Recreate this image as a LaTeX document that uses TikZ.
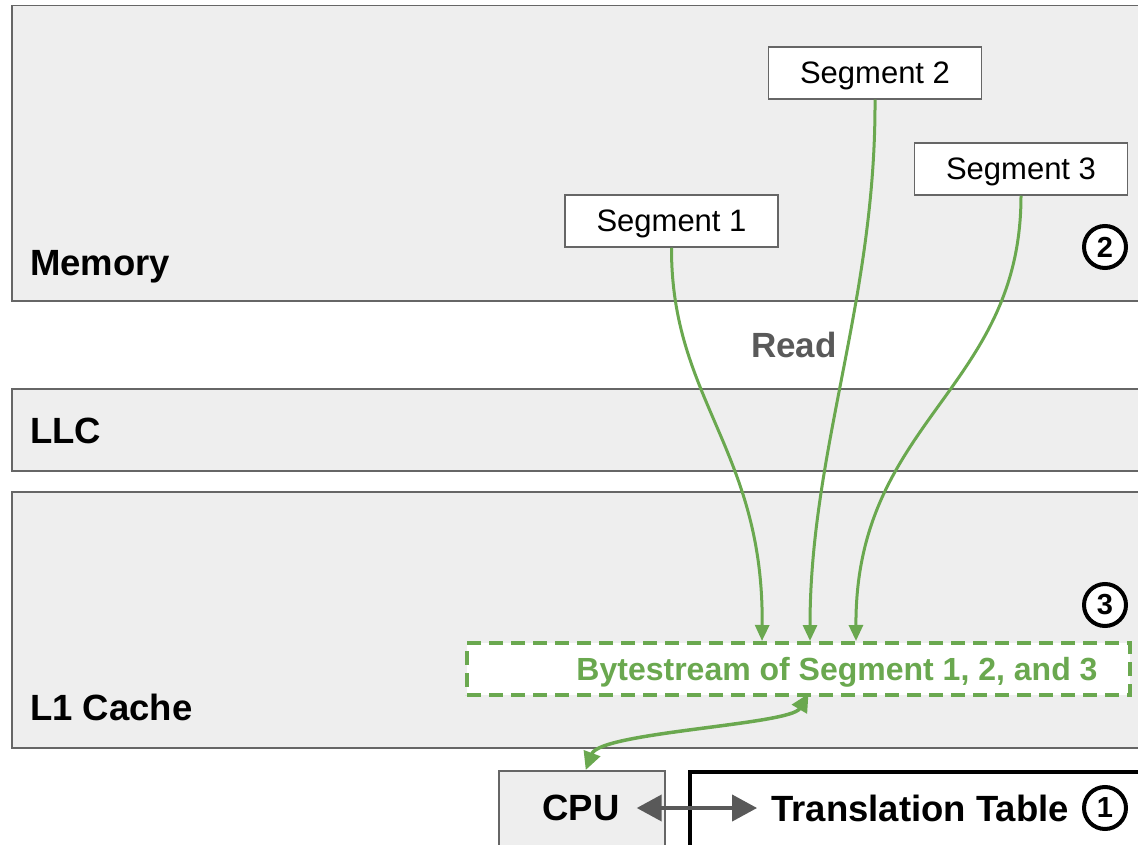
\documentclass[tikz,border=0pt]{standalone}
\usepackage{fontspec}
\setmainfont{Liberation Sans}
\usetikzlibrary{arrows.meta}
\definecolor{panel}{HTML}{EEEEEE}
\definecolor{edge}{HTML}{666666}
\definecolor{leaf}{HTML}{6AA84F}
\definecolor{ink}{HTML}{595959}
\begin{document}
\begin{tikzpicture}[x=1pt,y=-1pt,
  layer/.style={draw=edge,fill=panel,line width=1.5pt,inner sep=0pt,anchor=north west},
  lbl/.style={inner sep=0pt,font=\fontsize{36.5}{40}\selectfont\bfseries},
  seg/.style={draw=edge,fill=white,line width=1.5pt,minimum width=213pt,minimum height=52pt,inner sep=0pt,text depth=0pt,font=\fontsize{31}{34}\selectfont},
  num/.style={circle,draw=black,fill=white,line width=4pt,minimum size=42pt,inner sep=0pt,font=\fontsize{29}{30}\selectfont\bfseries},
  flow/.style={draw=leaf,line width=3pt,-{Triangle[length=16pt,width=14pt]}},
  link/.style={draw=leaf,line width=3.5pt,{Triangle[length=18pt,width=17pt]}-{Triangle[length=18pt,width=17pt]}},
  swap/.style={draw=ink,line width=4pt,{Triangle[length=25pt,width=26pt]}-{Triangle[length=25pt,width=26pt]}}]
\useasboundingbox (0,0) rectangle (1138,845);
\clip (0,0) rectangle (1138,845);
\fill[white] (0,0) rectangle (1138,845);

% memory hierarchy layers
\node[layer,minimum width=1140pt,minimum height=295pt] (mem) at (11,5) {};
\node[layer,minimum width=1140pt,minimum height=82pt] (llc) at (11,388) {};
\node[layer,minimum width=1140pt,minimum height=256pt] (l1) at (11,491) {};
\node[lbl,anchor=base west] (memlbl) at (30,275) {Memory};
\node[lbl,anchor=base west] (llclbl) at (30,443) {LLC};
\node[lbl,anchor=base west] (l1lbl) at (30,720) {L1 Cache};

% segments in memory
\node[seg] (s1) at (671.5,221) {Segment 1};
\node[seg] (s2) at (875,73) {Segment 2};
\node[seg] (s3) at (1021,169) {Segment 3};
\node[lbl,text=ink,font=\fontsize{35}{40}\selectfont\bfseries,text depth=0pt] (rd) at (794,345) {Read};

% bytestream buffer in L1
\node[draw=leaf,fill=white,line width=3.5pt,dash pattern=on 14pt off 8pt,
      minimum width=663pt,minimum height=52pt,inner sep=0pt] (bs) at (798.5,669) {};
\node[lbl,text=leaf,text depth=0pt,font=\fontsize{32}{36}\selectfont\bfseries] (bstxt) at (837,669) {Bytestream of Segment 1, 2, and 3};

% CPU and translation table
\node[layer,minimum width=166pt,minimum height=100pt] (cpu) at (498,770) {};
\node[layer,draw=black,fill=white,line width=3.5pt,minimum width=470pt,minimum height=100pt] (tt) at (688,770) {};
\node[lbl] (cpulbl) at (581,808) {CPU};
\node[lbl] (ttlbl) at (920,808) {Translation Table};

% step markers
\node[num] (n1) at (1105,808) {1};
\node[num] (n2) at (1105,247) {2};
\node[num] (n3) at (1105,605) {3};

% read paths
\coordinate (t1) at (762,641);
\coordinate (t2) at (810,641);
\coordinate (t3) at (856,641);
\draw[flow] (s1.south) .. controls (671,400) and (764,450) .. (t1);
\draw[flow] (s2.south) .. controls (876,300) and (810,450) .. (t2);
\draw[flow] (s3.south) .. controls (1021,390) and (855,420) .. (t3);

% CPU access to bytestream
\draw[link] ([xshift=10pt,yshift=3pt]bs.south) .. controls (790,725) and (600,732) .. ([xshift=4pt]cpu.north);

% CPU <-> translation table
\draw[swap] ([xshift=17pt]cpulbl.east) -- ([xshift=-14pt]ttlbl.west);
\end{tikzpicture}
\end{document}
